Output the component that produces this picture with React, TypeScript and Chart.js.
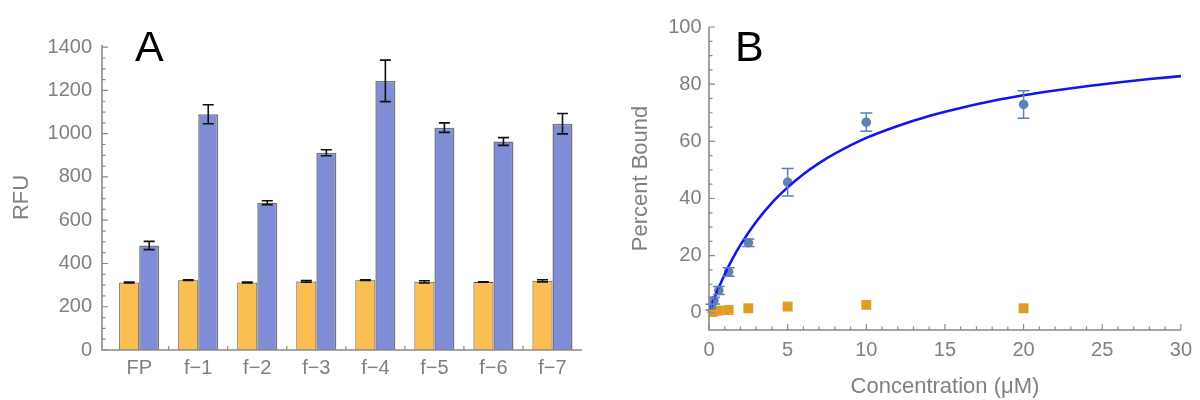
import React, { useEffect, useRef } from 'react';
import { Chart, registerables } from 'chart.js';

Chart.register(...registerables);

// ---------- Panel A data ----------
const categories = ['FP', 'f−1', 'f−2', 'f−3', 'f−4', 'f−5', 'f−6', 'f−7'];
const controlRFU = [312, 323, 312, 317, 323, 315, 314, 320];
const controlErr = [2, 2, 2, 4, 1, 5, 1, 5];
const probeRFU = [483, 1090, 681, 912, 1244, 1028, 964, 1046];
const probeErr = [19, 44, 9, 14, 96, 22, 18, 47];
const rfuTicks = [0, 200, 400, 600, 800, 1000, 1200, 1400];
const rfuMinorTicks = [50, 100, 150, 250, 300, 350, 450, 500, 550, 650, 700, 750, 850, 900, 950, 1050, 1100, 1150, 1250, 1300, 1350];
const groupBoundaries = [0.5, 1.5, 2.5, 3.5, 4.5, 5.5, 6.5];

// ---------- Panel B data ----------
const concentration = [0.156, 0.3125, 0.625, 1.25, 2.5, 5, 10, 20];
const boundProbe = [2.0, 4.3, 7.8, 14.3, 24.5, 45.7, 66.7, 72.9];
const boundProbeErr = [1.0, 1.2, 1.4, 1.5, 1.3, 4.8, 3.2, 4.8];
const boundControl = [0.3, 0.5, 0.8, 1.0, 1.6, 2.2, 2.8, 1.6];
const boundControlErr = [0.3, 0.3, 0.3, 0.4, 0.5, 0.5, 0.8, 0.6];
const fitX = [0, 0.25, 0.5, 1, 1.5, 2, 3, 4, 5, 6, 7, 8, 10, 12, 14, 16, 18, 20, 22, 24, 26, 28, 30];
const fitY = [0, 3.8, 7.2, 13.5, 19.0, 23.8, 31.9, 38.5, 43.9, 48.5, 52.4, 55.7, 61.2, 65.4, 68.9, 71.7, 74.1, 76.1, 77.8, 79.3, 80.6, 81.8, 82.8];
const concTicks = [0, 5, 10, 15, 20, 25, 30];
const concMinorTicks = [1, 2, 3, 4, 6, 7, 8, 9, 11, 12, 13, 14, 16, 17, 18, 19, 21, 22, 23, 24, 26, 27, 28, 29];
const boundTicks = [0, 20, 40, 60, 80, 100];
const boundMinorTicks = [5, 10, 15, 25, 30, 35, 45, 50, 55, 65, 70, 75, 85, 90, 95];

// ---------- styles ----------
const FONT = "'Liberation Sans', Arial, sans-serif";
const GRAY = '#808080';
const AXIS = '#8a8a8a';
const ORANGE_BAR = '#FBBE52';
const BLUE_BAR = '#7F8DD6';
const BLUE_PT = '#5E81B5';
const ORANGE_PT = '#E19C24';

type ErrSpec = { ds: number; errs: number[]; color: string; cap: number; width: number };

function errorBarPlugin(id: string, specs: ErrSpec[]) {
  return {
    id,
    afterDatasetsDraw(chart: any) {
      const { ctx } = chart;
      const yScale = chart.scales.y;
      ctx.save();
      for (const s of specs) {
        const meta = chart.getDatasetMeta(s.ds);
        const data = chart.data.datasets[s.ds].data as any[];
        meta.data.forEach((el: any, i: number) => {
          const v = data[i].y;
          const e = s.errs[i];
          const x = el.x;
          const y1 = yScale.getPixelForValue(v + e);
          const y2 = yScale.getPixelForValue(v - e);
          ctx.strokeStyle = s.color;
          ctx.lineWidth = s.width;
          ctx.beginPath();
          ctx.moveTo(x, y1);
          ctx.lineTo(x, y2);
          ctx.moveTo(x - s.cap, y1);
          ctx.lineTo(x + s.cap, y1);
          ctx.moveTo(x - s.cap, y2);
          ctx.lineTo(x + s.cap, y2);
          ctx.stroke();
        });
      }
      ctx.restore();
    },
  };
}

type AxesSpec = {
  xMajor: number[]; xMinor: number[]; yMajor: number[]; yMinor: number[];
  xMajorLen: number; xMinorLen: number; yMajorLen: number; yMinorLen: number;
};

function mmaAxesPlugin(id: string, s: AxesSpec) {
  return {
    id,
    afterDraw(chart: any) {
      const { ctx, chartArea } = chart;
      const { left, right, top, bottom } = chartArea;
      const xs = chart.scales.x;
      const ys = chart.scales.y;
      ctx.save();
      ctx.strokeStyle = AXIS;
      ctx.lineWidth = 1.6;
      ctx.beginPath();
      ctx.moveTo(left, top);
      ctx.lineTo(left, bottom);
      ctx.lineTo(right, bottom);
      ctx.stroke();
      ctx.lineWidth = 1.2;
      ctx.beginPath();
      const yt = (vals: number[], len: number) => vals.forEach((v) => {
        const p = ys.getPixelForValue(v);
        ctx.moveTo(left, p);
        ctx.lineTo(left + len, p);
      });
      const xt = (vals: number[], len: number) => vals.forEach((v) => {
        const p = xs.getPixelForValue(v);
        ctx.moveTo(p, bottom);
        ctx.lineTo(p, bottom - len);
      });
      yt(s.yMajor, s.yMajorLen);
      yt(s.yMinor, s.yMinorLen);
      xt(s.xMajor, s.xMajorLen);
      xt(s.xMinor, s.xMinorLen);
      ctx.stroke();
      ctx.restore();
    },
  };
}

function panelLabelPlugin(id: string, text: string, x: number, y: number) {
  return {
    id,
    afterDraw(chart: any) {
      const { ctx } = chart;
      ctx.save();
      ctx.fillStyle = '#000';
      ctx.font = `43px ${FONT}`;
      ctx.textAlign = 'left';
      ctx.textBaseline = 'alphabetic';
      ctx.fillText(text, x, y);
      ctx.restore();
    },
  };
}

const tickFont = { family: FONT, size: 20 };
const titleFont = { family: FONT, size: 22 };
const plainNumber = (v: any) => String(v);

function makeConfigA(): any {
  return {
    type: 'bar',
    data: {
      datasets: [
        {
          data: controlRFU.map((v, i) => ({ x: i, y: v })),
          backgroundColor: ORANGE_BAR,
          borderColor: 'rgba(60,45,20,0.85)',
          borderWidth: 1,
          borderSkipped: 'bottom',
        },
        {
          data: probeRFU.map((v, i) => ({ x: i, y: v })),
          backgroundColor: BLUE_BAR,
          borderColor: 'rgba(100,100,110,0.9)',
          borderWidth: 1.5,
          borderSkipped: 'bottom',
        },
      ],
    },
    options: {
      responsive: false,
      animation: false,
      events: [],
      layout: { padding: { left: 0, top: 45, right: 18, bottom: 0 } },
      categoryPercentage: 40 / 59,
      barPercentage: 1,
      plugins: { legend: { display: false }, tooltip: { enabled: false } },
      scales: {
        x: {
          type: 'linear',
          min: -0.63,
          max: 7.5,
          offset: false,
          grid: { display: false, drawTicks: false },
          border: { display: false },
          afterBuildTicks: (sc: any) => { sc.ticks = categories.map((_, i) => ({ value: i })); },
          afterFit: (sc: any) => { sc.height = 50; },
          ticks: {
            callback: (v: any) => categories[v] ?? '',
            font: tickFont, color: GRAY, padding: 6, maxRotation: 0, autoSkip: false,
          },
        },
        y: {
          type: 'linear',
          min: 0,
          max: 1410,
          grid: { display: false, drawTicks: false },
          border: { display: false },
          afterBuildTicks: (sc: any) => { sc.ticks = rfuTicks.map((v) => ({ value: v })); },
          afterFit: (sc: any) => { sc.width = 102; },
          ticks: { font: tickFont, color: GRAY, padding: 10, callback: plainNumber },
          title: { display: true, text: 'RFU', font: titleFont, color: GRAY, padding: { top: 9, bottom: 0 } },
        },
      },
    },
    plugins: [
      errorBarPlugin('errA', [
        { ds: 0, errs: controlErr, color: '#111', cap: 5.5, width: 1.6 },
        { ds: 1, errs: probeErr, color: '#111', cap: 5.5, width: 1.6 },
      ]),
      mmaAxesPlugin('axesA', {
        xMajor: groupBoundaries, xMinor: [], yMajor: rfuTicks, yMinor: rfuMinorTicks,
        xMajorLen: 4, xMinorLen: 0, yMajorLen: 6, yMinorLen: 3.5,
      }),
      panelLabelPlugin('labelA', 'A', 135, 61),
    ],
  };
}

function makeConfigB(): any {
  return {
    type: 'scatter',
    data: {
      datasets: [
        {
          type: 'line',
          data: fitX.map((x, i) => ({ x, y: fitY[i] })),
          borderColor: '#1414F0',
          borderWidth: 2.6,
          pointRadius: 0,
          showLine: true,
          fill: false,
          cubicInterpolationMode: 'monotone',
        },
        {
          data: concentration.map((x, i) => ({ x, y: boundProbe[i] })),
          backgroundColor: BLUE_PT,
          borderColor: BLUE_PT,
          borderWidth: 0,
          pointRadius: 4.8,
          pointStyle: 'circle',
        },
        {
          data: concentration.map((x, i) => ({ x, y: boundControl[i] })),
          backgroundColor: ORANGE_PT,
          borderColor: ORANGE_PT,
          borderWidth: 0,
          pointRadius: 7,
          pointStyle: 'rect',
        },
      ],
    },
    options: {
      responsive: false,
      animation: false,
      events: [],
      layout: { padding: { left: 0, top: 27, right: 14, bottom: 0 } },
      plugins: { legend: { display: false }, tooltip: { enabled: false } },
      scales: {
        x: {
          type: 'linear',
          min: 0,
          max: 30,
          grid: { display: false, drawTicks: false },
          border: { display: false },
          afterBuildTicks: (sc: any) => { sc.ticks = concTicks.map((v) => ({ value: v })); },
          afterFit: (sc: any) => { sc.height = 70; },
          ticks: { font: tickFont, color: GRAY, padding: 8, maxRotation: 0, autoSkip: false, callback: plainNumber },
          title: { display: true, text: 'Concentration (μM)', font: titleFont, color: GRAY, padding: { top: 0, bottom: 0 } },
        },
        y: {
          type: 'linear',
          min: -6,
          max: 100,
          grid: { display: false, drawTicks: false },
          border: { display: false },
          afterBuildTicks: (sc: any) => { sc.ticks = boundTicks.map((v) => ({ value: v })); },
          afterFit: (sc: any) => { sc.width = 109; },
          ticks: { font: tickFont, color: GRAY, padding: 7.5, callback: plainNumber },
          title: { display: true, text: 'Percent Bound', font: titleFont, color: GRAY, padding: { top: 28, bottom: 0 } },
        },
      },
    },
    plugins: [
      errorBarPlugin('errB', [
        { ds: 1, errs: boundProbeErr, color: BLUE_PT, cap: 6, width: 1.5 },
        { ds: 2, errs: boundControlErr, color: ORANGE_PT, cap: 4, width: 1.5 },
      ]),
      mmaAxesPlugin('axesB', {
        xMajor: concTicks, xMinor: concMinorTicks, yMajor: boundTicks, yMinor: boundMinorTicks,
        xMajorLen: 6, xMinorLen: 3.5, yMajorLen: 6, yMinorLen: 3.5,
      }),
      panelLabelPlugin('labelB', 'B', 135, 61),
    ],
  };
}

export default function App() {
  const aRef = useRef<HTMLCanvasElement>(null);
  const bRef = useRef<HTMLCanvasElement>(null);
  useEffect(() => {
    const a = new Chart(aRef.current as HTMLCanvasElement, makeConfigA());
    const b = new Chart(bRef.current as HTMLCanvasElement, makeConfigB());
    return () => {
      a.destroy();
      b.destroy();
    };
  }, []);
  return (
    <div style={{ position: 'absolute', left: 0, top: 0, width: 1200, height: 400, background: '#fff' }}>
      <canvas ref={aRef} width={600} height={400} style={{ position: 'absolute', left: 0, top: 0, width: 600, height: 400 }} />
      <canvas ref={bRef} width={600} height={400} style={{ position: 'absolute', left: 600, top: 0, width: 600, height: 400 }} />
    </div>
  );
}
